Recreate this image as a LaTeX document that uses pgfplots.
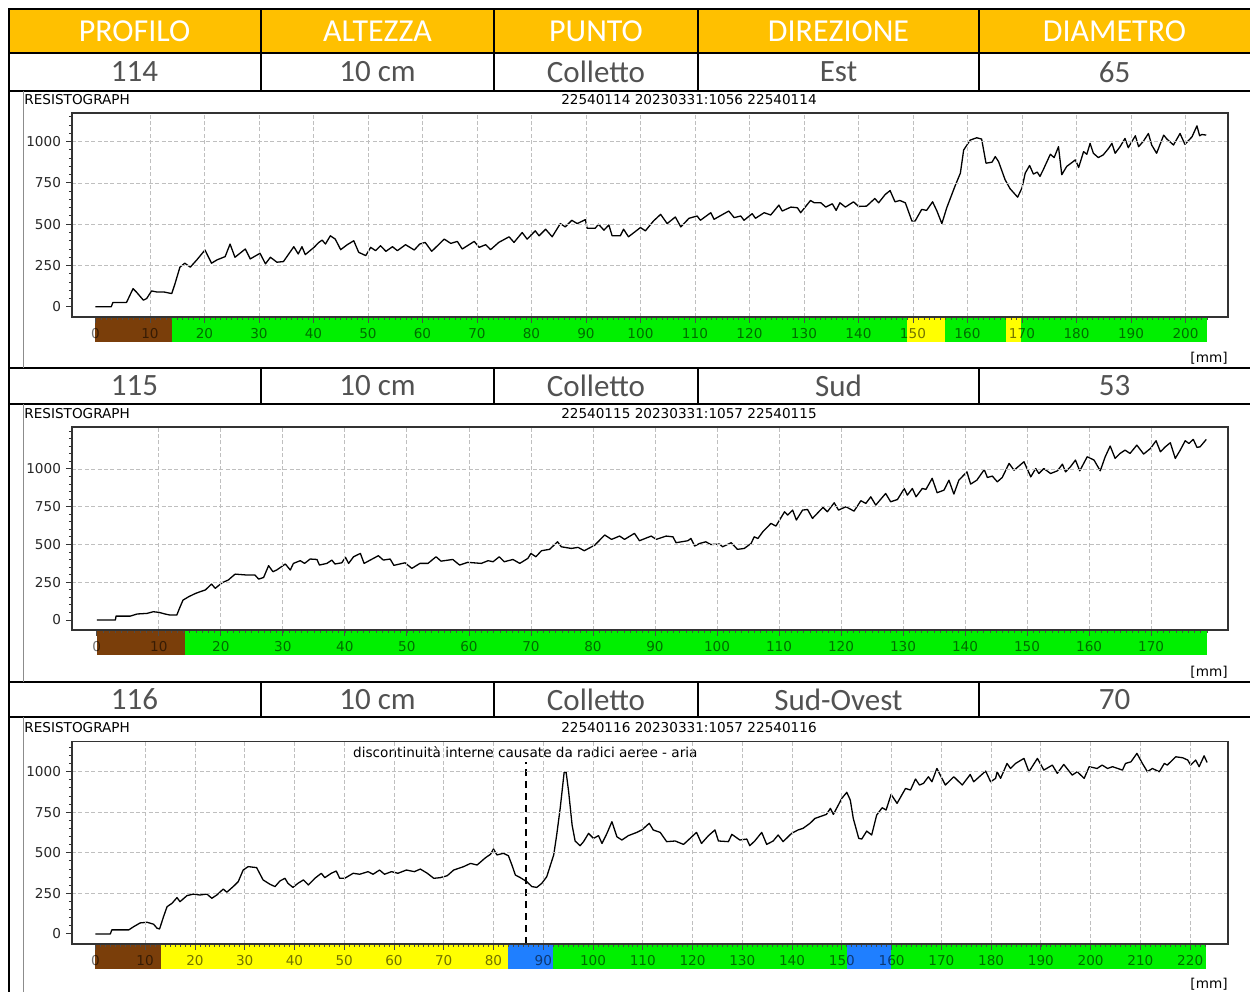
\documentclass[border=0pt]{standalone}
\usepackage{pgfplots}
\pgfplotsset{compat=1.18}
\usepackage{fontspec}
\setmainfont{DejaVu Sans}
\newfontfamily\tabfont{Carlito}
\definecolor{hdr}{HTML}{FFC000}
\definecolor{rbrown}{HTML}{7A3E0A}
\definecolor{rgreen}{HTML}{00F000}
\definecolor{ryellow}{HTML}{FFFF00}
\definecolor{rblue}{HTML}{1F7FFF}
\newcommand\cf{\fontsize{6.8}{8}\selectfont}
\newcommand\tf{\tabfont\fontsize{16}{18}\selectfont}
\newcommand\rf{\tabfont\fontsize{15.5}{18}\selectfont}
\pgfplotsset{resi/.style={
  scale only axis, anchor=north west, clip=false, axis on top,
  axis line style={black!80, line width=0.6pt},
  grid=major,
  major grid style={black!25, dash pattern=on 2pt off 1.2pt, line width=0.4pt},
  x tick style={draw=none},
  xticklabels={},
  ytick={250,500,750,1000}, minor ytick={50,100,...,1250},
  extra y ticks={0}, extra tick style={grid=none},
  tick align=outside, ytick pos=left,
  y tick style={black!80, line width=0.5pt},
  major tick length=3pt, minor tick length=1.6pt,
  yticklabel style={font=\cf, text=black!85, xshift=1pt},
  /pgf/number format/assume math mode=true,
  /pgf/number format/1000 sep={},
},
curve/.style={black, line width=0.65pt, line join=round, mark=none}}
\begin{document}
\begin{tikzpicture}
\begin{scope}[x=0.5pt,y=-0.5pt]
\useasboundingbox (0,0) rectangle (1250,992);
\fill[hdr] (9,9) rectangle (1250,53);
\foreach \yy in {9,53,91,368,404,682,717} \draw[line width=1pt] (8,\yy) -- (1250,\yy);
\draw[line width=1pt] (9,8) -- (9,992);
\foreach \xx in {261,494,698,979} {
  \draw[line width=1pt] (\xx,9) -- (\xx,91);
  \draw[line width=1pt] (\xx,368) -- (\xx,404);
  \draw[line width=1pt] (\xx,682) -- (\xx,717);
}
\draw[black!45, line width=0.5pt] (23,91) -- (23,368) (23,404) -- (23,682) (23,717) -- (23,992);
\foreach \xx/\tt in {134.5/PROFILO,377.5/ALTEZZA,596/PUNTO,838.5/DIREZIONE,1114.5/DIAMETRO}
  \node[text=white, font=\tf] at (\xx,31.5) {\tt};
\foreach \yy/\a/\b/\c/\d/\e in {72/114/10 cm/Colletto/Est/65, 386/115/10 cm/Colletto/Sud/53, 699.5/116/10 cm/Colletto/Sud-Ovest/70} {
  \node[text=black!68, font=\rf] at (134.5,\yy) {\a};
  \node[text=black!68, font=\rf] at (377.5,\yy) {\b};
  \node[text=black!68, font=\rf] at (596,\yy) {\c};
  \node[text=black!68, font=\rf] at (838.5,\yy) {\d};
  \node[text=black!68, font=\rf] at (1114.5,\yy) {\e};
}
\foreach \yy/\tt in {100/22540114 20230331:1056 22540114, 414/22540115 20230331:1057 22540115, 728/22540116 20230331:1057 22540116} {
  \node[anchor=west, font=\cf, inner sep=0pt] at (24,\yy) {RESISTOGRAPH};
  \node[font=\cf, inner sep=0pt] at (689,\yy) {\tt};
}
\foreach \yy in {358,672,984} \node[anchor=east, font=\cf, inner sep=0pt] at (1228,\yy) {[mm]};
\end{scope}

% ---------------- Panel 1
\begin{axis}[resi, at={(36pt,-56.5pt)}, width=578pt, height=102pt,
  xmin=-4.3, xmax=207.8, ymin=-62, ymax=1174, xtick={10,20,...,200}]
\fill[rbrown] (axis cs:0,-62) rectangle ([yshift=-12.5pt]axis cs:14,-62);
\fill[rgreen] (axis cs:14,-62) rectangle ([yshift=-12.5pt]axis cs:148.9,-62);
\fill[ryellow] (axis cs:148.9,-62) rectangle ([yshift=-12.5pt]axis cs:155.9,-62);
\fill[rgreen] (axis cs:155.9,-62) rectangle ([yshift=-12.5pt]axis cs:167,-62);
\fill[ryellow] (axis cs:167,-62) rectangle ([yshift=-12.5pt]axis cs:169.9,-62);
\fill[rgreen] (axis cs:169.9,-62) rectangle ([yshift=-12.5pt]axis cs:204,-62);
\pgfplotsinvokeforeach{0,...,204}{\draw[black!70, line width=0.35pt] (axis cs:#1,-62) -- ([yshift=-1.6pt]axis cs:#1,-62);}
\pgfplotsinvokeforeach{0,10,...,200}{\draw[black!70, line width=0.4pt] (axis cs:#1,-62) -- ([yshift=-3pt]axis cs:#1,-62);
  \node[font=\cf, text opacity=0.55, inner sep=0pt] at ([yshift=-8.3pt]axis cs:#1,-62) {#1};}
\addplot[curve] coordinates {
(0,0)(2.9,0)(3.2,26)(5.7,26)(6.9,110)(7.5,90)(8.8,40)(9.4,50)(10.3,96)(11.2,90)(12.5,90)(14,80)
(14.6,140)(15.5,240)(16.4,264)(17.4,240)(18.6,284)(20.1,344)(21.3,264)(22.3,284)(23.8,304)(24.7,380)
(25.6,300)(27.5,350)(28.4,290)(30.2,324)(31.2,260)(32.1,300)(33.3,270)(34.5,274)(36.4,364)(37.2,320)
(37.9,364)(38.5,316)(40.1,360)(41,390)(41.6,404)(42.2,380)(43.1,430)(44,410)(45,346)(46.2,376)
(47.4,400)(48.3,330)(49.6,310)(50.5,360)(51.4,340)(52.3,370)(53.3,336)(54.5,364)(55.4,340)(56.9,376)
(58.5,344)(59.5,380)(60.5,390)(61.7,336)(64,410)(65.2,384)(66.4,396)(67.3,350)(69.5,396)(70.4,360)
(71.6,376)(72.5,346)(74,390)(75.9,424)(76.8,390)(78.3,450)(79.2,410)(80.7,460)(81.4,430)(82.6,470)
(83.8,424)(85.3,504)(86.2,484)(87.4,524)(88.4,504)(89.9,528)(90.2,476)(91.7,476)(92.3,500)(93.3,464)
(94.2,496)(94.8,430)(96.3,430)(96.9,470)(97.8,424)(100,480)(100.9,460)(102.4,520)(103.7,560)(104.9,504)
(106.4,544)(107.4,484)(108.9,536)(110.4,550)(111,524)(112.9,570)(113.5,530)(116.2,580)(117.2,540)
(118.4,550)(119,524)(120.5,564)(121.1,536)(122.7,570)(123.9,556)(125.4,616)(126,580)(127.6,604)
(128.8,600)(129.4,570)(131.2,644)(131.9,630)(133.1,630)(134,604)(135.2,624)(135.9,584)(136.6,630)
(137.6,604)(139.1,636)(140,608)(141.5,610)(143,656)(143.7,630)(144.9,680)(145.8,704)(146.7,636)
(147.6,644)(148.6,630)(149.8,520)(150.4,520)(151.6,590)(152.5,584)(153.6,636)(154.4,580)(155.3,504)
(156.2,600)(157.7,730)(158.7,810)(159.3,950)(160.5,1010)(161.7,1024)(162.6,1016)(163.4,870)(164.5,876)
(165.1,910)(165.7,880)(166.9,770)(167.8,716)(169.2,664)(170,720)(170.6,810)(171.4,856)(172.1,804)
(172.8,816)(173.3,790)(173.9,830)(175.2,924)(175.9,904)(176.7,970)(177.3,800)(178.2,850)(179.8,890)
(180.4,844)(181.3,940)(181.9,924)(182.5,990)(183.1,930)(184,904)(184.9,920)(185.9,960)(186.5,990)
(187.1,930)(188,970)(188.9,1020)(189.5,964)(190.8,1036)(191.4,970)(192.3,1004)(193.2,1050)(193.8,980)
(194.7,930)(196,1040)(196.6,1016)(197.8,980)(199,1050)(199.9,984)(201.2,1030)(202.1,1096)(202.6,1036)
(203,1044)(203.8,1040)
};
\end{axis}

% ---------------- Panel 2
\begin{axis}[resi, at={(36pt,-213.5pt)}, width=578pt, height=101.5pt,
  xmin=-4.0, xmax=182.4, ymin=-66, ymax=1278, xtick={10,20,...,170}]
\fill[rbrown] (axis cs:0,-66) rectangle ([yshift=-12.5pt]axis cs:14.2,-66);
\fill[rgreen] (axis cs:14.2,-66) rectangle ([yshift=-12.5pt]axis cs:179,-66);
\pgfplotsinvokeforeach{0,...,179}{\draw[black!70, line width=0.35pt] (axis cs:#1,-66) -- ([yshift=-1.6pt]axis cs:#1,-66);}
\pgfplotsinvokeforeach{0,10,...,170}{\draw[black!70, line width=0.4pt] (axis cs:#1,-66) -- ([yshift=-3pt]axis cs:#1,-66);
  \node[font=\cf, text opacity=0.55, inner sep=0pt] at ([yshift=-8.3pt]axis cs:#1,-66) {#1};}
\addplot[curve] coordinates {
(0,0)(3,0)(3.1,26)(5.4,26)(6.5,40)(8.1,44)(9.1,55)(10,51)(11,40)(11.8,33)(12.9,33)(13.4,84)(13.9,132)
(14.8,154)(15.9,176)(16.7,188)(17.5,199)(18.5,238)(19.1,210)(20.2,247)(21.2,265)(22.3,304)(24.2,298)
(25.5,298)(26.1,271)(26.9,282)(27.7,360)(28.4,320)(29,331)(30.4,371)(31.2,331)(31.7,375)(32.8,393)
(33.5,375)(34.4,404)(35.5,401)(35.9,364)(37.1,375)(37.9,397)(38.4,371)(39.5,379)(40.1,415)(40.6,375)
(41.4,419)(42.5,441)(43.1,375)(45.4,426)(46.2,397)(47.3,404)(47.9,362)(49.7,379)(50.8,342)(52.1,375)
(53.4,375)(54.7,419)(55.5,390)(57.4,401)(58.5,364)(59.8,382)(62,375)(63.1,393)(63.9,386)(64.9,419)
(65.7,386)(67.1,401)(68.2,375)(69.5,408)(70,441)(70.8,419)(71.7,459)(73,468)(74.3,518)(74.9,485)
(76.5,474)(77.6,481)(78.6,459)(80.3,496)(81.9,563)(83,534)(84.3,556)(85.1,534)(86.7,574)(87.5,525)
(89.4,556)(90.2,534)(91.8,556)(92.9,551)(93.4,512)(95.3,525)(95.8,540)(96.4,490)(97.2,507)(98.2,518)
(99,500)(100.4,503)(100.9,485)(102.3,512)(103.3,468)(104.4,474)(105.5,507)(106,551)(106.6,540)
(107.4,585)(108.2,618)(108.7,640)(109.5,622)(110.9,717)(111.4,695)(112.2,728)(112.8,662)(113.8,728)
(114.6,732)(115.4,673)(117.1,746)(117.8,717)(118.9,776)(119.6,728)(120.8,750)(122.1,721)(123.2,790)
(124,772)(124.8,816)(125.6,761)(127.2,838)(128,783)(129.1,798)(130.2,871)(130.7,827)(131.5,871)
(132.1,816)(133.1,871)(133.7,865)(134.7,938)(135.5,843)(136.6,860)(137.4,926)(138.2,834)(139,926)
(140.3,981)(140.9,900)(141.9,926)(143.1,996)(143.6,944)(144.4,953)(145.2,915)(146,944)(147.1,1037)
(147.9,992)(149.5,1048)(150.6,948)(151.4,1003)(151.9,970)(152.7,1003)(153.8,970)(154.9,988)(155.7,1032)
(156.2,981)(157,1015)(157.8,1059)(158.5,988)(159.7,1081)(160.8,1059)(161.8,988)(162.6,1081)(163.4,1152)
(164.2,1070)(165,1103)(165.8,1125)(166.6,1103)(167.7,1158)(168.8,1099)(169.9,1136)(170.8,1187)
(171.5,1114)(172.3,1147)(173.1,1174)(173.9,1070)(174.7,1125)(175.5,1187)(176.1,1169)(176.8,1196)
(177.4,1143)(177.9,1147)(178.9,1196)
};
\end{axis}

% ---------------- Panel 3
\begin{axis}[resi, at={(36pt,-370.85pt)}, width=578pt, height=101.15pt,
  xmin=-4.7, xmax=227.6, ymin=-62, ymax=1185, xtick={10,20,...,220}]
\fill[rbrown] (axis cs:0,-62) rectangle ([yshift=-12.5pt]axis cs:13.1,-62);
\fill[ryellow] (axis cs:13.1,-62) rectangle ([yshift=-12.5pt]axis cs:82.9,-62);
\fill[rblue] (axis cs:82.9,-62) rectangle ([yshift=-12.5pt]axis cs:91.9,-62);
\fill[rgreen] (axis cs:91.9,-62) rectangle ([yshift=-12.5pt]axis cs:151,-62);
\fill[rblue] (axis cs:151,-62) rectangle ([yshift=-12.5pt]axis cs:159.8,-62);
\fill[rgreen] (axis cs:159.8,-62) rectangle ([yshift=-12.5pt]axis cs:223.2,-62);
\pgfplotsinvokeforeach{0,...,223}{\draw[black!70, line width=0.35pt] (axis cs:#1,-62) -- ([yshift=-1.6pt]axis cs:#1,-62);}
\pgfplotsinvokeforeach{0,10,...,220}{\draw[black!70, line width=0.4pt] (axis cs:#1,-62) -- ([yshift=-3pt]axis cs:#1,-62);
  \node[font=\cf, text opacity=0.55, inner sep=0pt] at ([yshift=-8.3pt]axis cs:#1,-62) {#1};}
\draw[black, line width=0.8pt, dash pattern=on 3.5pt off 2.5pt] (axis cs:86.5,-62) -- (axis cs:86.5,1062);
\node[font=\cf, inner sep=0pt] at (axis cs:86.4,1121) {discontinuità interne causate da radici aeree - aria};
\addplot[curve] coordinates {
(0,0)(3,0)(3.3,25)(6.7,25)(7.7,45)(9,68)(10.4,72)(11.7,60)(12.4,35)(12.9,31)(13.7,107)(14.4,168)
(15.4,189)(16.4,224)(17,199)(18.4,236)(19.7,246)(21,240)(22.4,246)(23.4,220)(24.4,240)(25.7,277)
(26.4,257)(27.7,292)(28.7,322)(29.7,394)(30.7,415)(32.4,409)(33.7,333)(35.1,306)(36.1,292)(37.1,327)
(38.1,343)(38.7,312)(39.7,287)(40.7,312)(41.8,333)(42.8,302)(44.1,343)(45.4,374)(46.1,347)(47.4,374)
(48.4,388)(49.1,343)(50.1,343)(51.8,374)(53.1,368)(54.8,384)(55.8,368)(57.1,394)(58.1,368)(59.5,384)
(60.8,374)(62.5,394)(64.1,384)(65.3,400)(66.7,374)(68,343)(69.3,347)(70.7,359)(72,394)(74,415)
(75.4,435)(76.7,425)(78.4,470)(79.4,491)(80,524)(80.7,487)(82,497)(83,482)(83.7,425)(84.4,363)
(85.4,347)(86.7,322)(87.7,292)(88.7,287)(89.7,312)(90.7,353)(92.1,487)(92.7,610)(93.4,774)(94.2,996)
(94.6,996)(95.1,877)(95.8,671)(96.4,573)(97.4,544)(98.1,569)(99.1,620)(100.1,589)(101.1,606)(101.8,558)
(102.8,620)(103.8,692)(104.8,599)(105.8,579)(107.1,606)(108.8,626)(109.8,641)(111.3,682)(112.1,641)
(113.5,626)(114.8,569)(116.5,573)(118.2,552)(119.5,589)(120.8,626)(121.8,558)(123.2,606)(124.5,641)
(125.2,573)(127.2,569)(127.9,614)(129.5,579)(130.9,585)(131.5,544)(132.5,573)(133.9,626)(134.9,552)
(136.2,573)(137.2,610)(138.2,569)(139.9,620)(141.2,641)(142.2,651)(143.6,682)(144.6,712)(145.6,723)
(146.9,737)(147.7,774)(148.3,737)(149.3,795)(150,836)(151,873)(151.7,825)(152.3,712)(153.4,589)
(154,585)(155,634)(156,610)(157,733)(158.1,778)(158.9,764)(159.9,860)(161.1,805)(162.8,897)(163.8,887)
(164.8,955)(165.6,918)(166.4,928)(167.4,969)(168.1,938)(169.1,1020)(170.8,918)(172.5,969)(174.2,918)
(175.8,983)(176.5,938)(178.9,1004)(179.9,938)(180.9,959)(181.2,1000)(181.9,959)(183.2,1051)(183.9,1020)
(184.9,1051)(186.6,1082)(187.6,1000)(189.3,1082)(190.6,1010)(192.3,1041)(193.3,990)(194.6,1045)
(196.3,979)(197.3,1000)(198.7,959)(199.7,1031)(201.3,1020)(202.3,1041)(203.4,1020)(204.4,1031)
(206.4,1010)(207,1051)(208.1,1061)(209.3,1113)(210.4,1051)(211.4,1000)(212.4,1020)(213.8,1000)
(214.8,1051)(215.4,1041)(217.1,1092)(218.5,1086)(219.5,1072)(220.1,1041)(221.1,1072)(221.8,1031)
(222.8,1098)(223.4,1057)
};
\end{axis}
\end{tikzpicture}
\end{document}
